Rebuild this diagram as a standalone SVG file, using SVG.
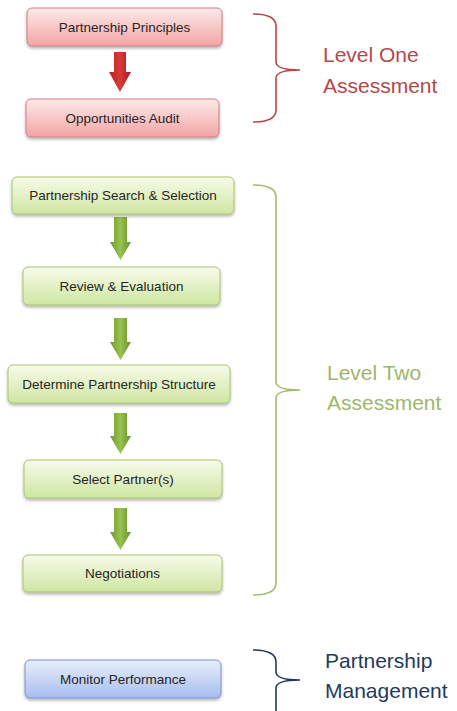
<svg xmlns="http://www.w3.org/2000/svg" width="457" height="711" viewBox="0 0 457 711">
<defs>
<linearGradient id="gPink" x1="0" y1="0" x2="0" y2="1"><stop offset="0" stop-color="#fdeaea"/><stop offset="1" stop-color="#f3a4a4"/></linearGradient>
<linearGradient id="gGreen" x1="0" y1="0" x2="0" y2="1"><stop offset="0" stop-color="#f6fbea"/><stop offset="1" stop-color="#cfe6a2"/></linearGradient>
<linearGradient id="gBlue" x1="0" y1="0" x2="0" y2="1"><stop offset="0" stop-color="#e8eefb"/><stop offset="1" stop-color="#a7bdee"/></linearGradient>
<linearGradient id="gRedArrow" x1="0" y1="0" x2="1" y2="0"><stop offset="0" stop-color="#b82222"/><stop offset="0.5" stop-color="#d83a3a"/><stop offset="1" stop-color="#a81818"/></linearGradient>
<linearGradient id="gGreenArrow" x1="0" y1="0" x2="1" y2="0"><stop offset="0" stop-color="#6f9a2f"/><stop offset="0.5" stop-color="#98c24e"/><stop offset="1" stop-color="#668f2a"/></linearGradient>
<filter id="shadow" x="-10%" y="-20%" width="120%" height="160%"><feDropShadow dx="0" dy="2" stdDeviation="1.5" flood-color="#000" flood-opacity="0.3"/></filter>
</defs>
<style>
.box{stroke-width:1;filter:url(#shadow)}
.pink{fill:url(#gPink);stroke:#cf7f7f}
.green{fill:url(#gGreen);stroke:#a8c46c}
.blue{fill:url(#gBlue);stroke:#7a95c6}
.lbl{font-family:"Liberation Sans",Arial,sans-serif;font-size:13.5px;fill:#262626;text-anchor:middle}
.big{font-family:"Liberation Sans",Arial,sans-serif;font-size:21px}
.brace{fill:none;stroke-width:1.6}
</style>
<rect width="457" height="711" fill="#ffffff"/>

<g id="connectors">
<path d="M114,52 H126 V72 H131 L120,92 L109,72 H114 Z" fill="url(#gRedArrow)"/>
<path d="M114,217 H127 V242 H131 L120.5,260 L110,242 H114 Z" fill="url(#gGreenArrow)"/>
<path d="M114,318 H127 V342 H131 L120.5,360 L110,342 H114 Z" fill="url(#gGreenArrow)"/>
<path d="M114,413 H127 V436 H131 L120.5,454 L110,436 H114 Z" fill="url(#gGreenArrow)"/>
<path d="M114,508 H127 V532 H131 L120.5,550 L110,532 H114 Z" fill="url(#gGreenArrow)"/>
</g>

<g id="partnership-principles">
<rect class="box pink" x="27" y="8" width="195" height="38" rx="5"/>
<text class="lbl" x="124.5" y="32">Partnership Principles</text>
</g>
<g id="opportunities-audit">
<rect class="box pink" x="26" y="99" width="193" height="38" rx="5"/>
<text class="lbl" x="122.5" y="123">Opportunities Audit</text>
</g>
<g id="partnership-search">
<rect class="box green" x="12" y="177" width="222" height="37" rx="5"/>
<text class="lbl" x="123" y="200">Partnership Search &amp; Selection</text>
</g>
<g id="review-evaluation">
<rect class="box green" x="23" y="267" width="197" height="38" rx="5"/>
<text class="lbl" x="121.5" y="291">Review &amp; Evaluation</text>
</g>
<g id="determine-structure">
<rect class="box green" x="8" y="365" width="222" height="38" rx="5"/>
<text class="lbl" x="119" y="389">Determine Partnership Structure</text>
</g>
<g id="select-partners">
<rect class="box green" x="24" y="460" width="198" height="38" rx="5"/>
<text class="lbl" x="123" y="484">Select Partner(s)</text>
</g>
<g id="negotiations">
<rect class="box green" x="23" y="555" width="199" height="37" rx="5"/>
<text class="lbl" x="122.5" y="578">Negotiations</text>
</g>
<g id="monitor-performance">
<rect class="box blue" x="25" y="660" width="196" height="38" rx="5"/>
<text class="lbl" x="123" y="684">Monitor Performance</text>
</g>

<g id="level-one">
<path class="brace" stroke="#b5474a" d="M253,14 Q276,14 276,26 V62 Q276,70 300,70 Q276,70 276,78 V110 Q276,122 253,122"/>
<text class="big" fill="#b5474a" x="323" y="62">Level One</text>
<text class="big" fill="#b5474a" x="323" y="93">Assessment</text>
</g>
<g id="level-two">
<path class="brace" stroke="#a3bb6d" d="M253,185 Q276,185 276,197 V382 Q276,390 300,390 Q276,390 276,398 V583 Q276,595 253,595"/>
<text class="big" fill="#9fb56c" x="327" y="380">Level Two</text>
<text class="big" fill="#9fb56c" x="327" y="410">Assessment</text>
</g>
<g id="partnership-management">
<path class="brace" stroke="#1f3a5f" d="M253,650 Q276,650 276,662 V672 Q276,680 300,680 Q276,680 276,688 V712"/>
<text class="big" fill="#1f3a5f" x="325" y="668">Partnership</text>
<text class="big" fill="#1f3a5f" x="325" y="698">Management</text>
</g>
</svg>
